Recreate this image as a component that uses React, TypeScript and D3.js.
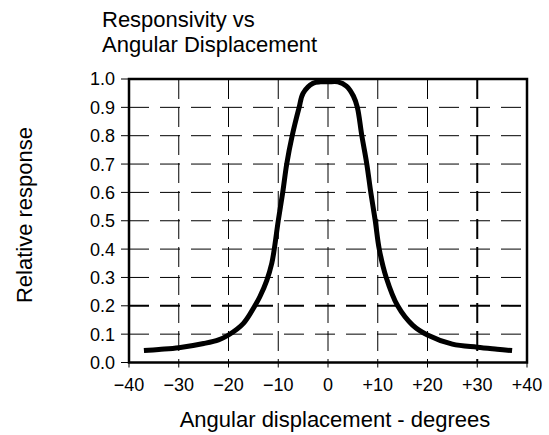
import React from 'react';
import * as d3 from 'd3';

// angle in degrees, relative response
const angles = [-37, -34, -30, -25, -22, -20, -17, -14.7, -13.7, -12.3, -11.3, -10.8, -10, -9.1, -8.3, -7.2, -5.8, -5, -3, -1.5, 0, 2, 3.7, 5.1, 5.9, 6.8, 7.8, 8.6, 9.5, 10.3, 11.7, 14, 17, 20, 25, 30, 34, 37];
const response = [0.042, 0.046, 0.052, 0.067, 0.08, 0.097, 0.138, 0.2, 0.232, 0.29, 0.35, 0.4, 0.5, 0.6, 0.7, 0.8, 0.9, 0.95, 0.985, 0.99, 0.99, 0.99, 0.975, 0.94, 0.9, 0.8, 0.7, 0.6, 0.5, 0.4, 0.3, 0.2, 0.132, 0.097, 0.065, 0.054, 0.047, 0.042];

const xTicks = [-40, -30, -20, -10, 0, 10, 20, 30, 40];
const xTickLabels = ['\u221240', '\u221230', '\u221220', '\u221210', '0', '+10', '+20', '+30', '+40'];
const yTicks = [0, 0.1, 0.2, 0.3, 0.4, 0.5, 0.6, 0.7, 0.8, 0.9, 1.0];
const yTickLabels = ['0.0', '0.1', '0.2', '0.3', '0.4', '0.5', '0.6', '0.7', '0.8', '0.9', '1.0'];

const titleLines = ['Responsivity vs', 'Angular Displacement'];

export default function App() {
  const width = 549;
  const height = 435;
  const left = 129, right = 527, top = 79, bottom = 362.5;

  const x = d3.scaleLinear().domain([-40, 40]).range([left, right]);
  const y = d3.scaleLinear().domain([0, 1]).range([bottom, top]);

  const points = angles.map((a, i) => [a, response[i]] as [number, number]);
  const line = d3.line<[number, number]>()
    .x(d => x(d[0]))
    .y(d => y(d[1]))
    .curve(d3.curveCatmullRom.alpha(0.5));

  const font = "'Liberation Sans', Arial, sans-serif";

  return (
    <svg width={width} height={height} style={{ position: 'absolute', left: 0, top: 0, background: '#fff' }} fontFamily={font}>
      {/* title */}
      {titleLines.map((t, i) => (
        <text key={t} x={102} y={27 + i * 24.5} fontSize={22} fill="#000">{t}</text>
      ))}

      {/* horizontal grid */}
      {yTicks.slice(1, -1).map(v => (
        <line key={'h' + v} x1={left} x2={right} y1={y(v)} y2={y(v)}
          stroke="#000" strokeWidth={v === 0.2 ? 2 : 1} strokeDasharray="20 11" />
      ))}
      {/* vertical grid */}
      {xTicks.slice(1, -1).map(v => (
        <line key={'v' + v} x1={x(v)} x2={x(v)} y1={top} y2={bottom}
          stroke="#000" strokeWidth={v === 30 ? 2 : 1} strokeDasharray="20 8" />
      ))}

      {/* y ticks */}
      {yTicks.map((v, i) => (
        <g key={'yt' + v}>
          <line x1={left - 8} x2={left} y1={y(v)} y2={y(v)} stroke="#000" strokeWidth={1} />
          <text x={115} y={y(v)} dy="0.36em" textAnchor="end" fontSize={18} fill="#000">{yTickLabels[i]}</text>
        </g>
      ))}
      {/* x ticks */}
      {xTicks.map((v, i) => (
        <g key={'xt' + v}>
          <line x1={x(v)} x2={x(v)} y1={bottom} y2={bottom + 5} stroke="#000" strokeWidth={1} />
          <text x={x(v)} y={391} textAnchor="middle" fontSize={18} fill="#000">{xTickLabels[i]}</text>
        </g>
      ))}

      {/* frame */}
      <rect x={left} y={top} width={right - left} height={bottom - top} fill="none" stroke="#000" strokeWidth={2.5} />

      {/* curve */}
      <path d={line(points) || ''} fill="none" stroke="#000" strokeWidth={5} strokeLinejoin="round" />

      {/* axis labels */}
      <text x={335} y={427} textAnchor="middle" fontSize={22} fill="#000">Angular displacement - degrees</text>
      <text transform="translate(32,215) rotate(-90)" textAnchor="middle" fontSize={22} fill="#000">Relative response</text>
    </svg>
  );
}
